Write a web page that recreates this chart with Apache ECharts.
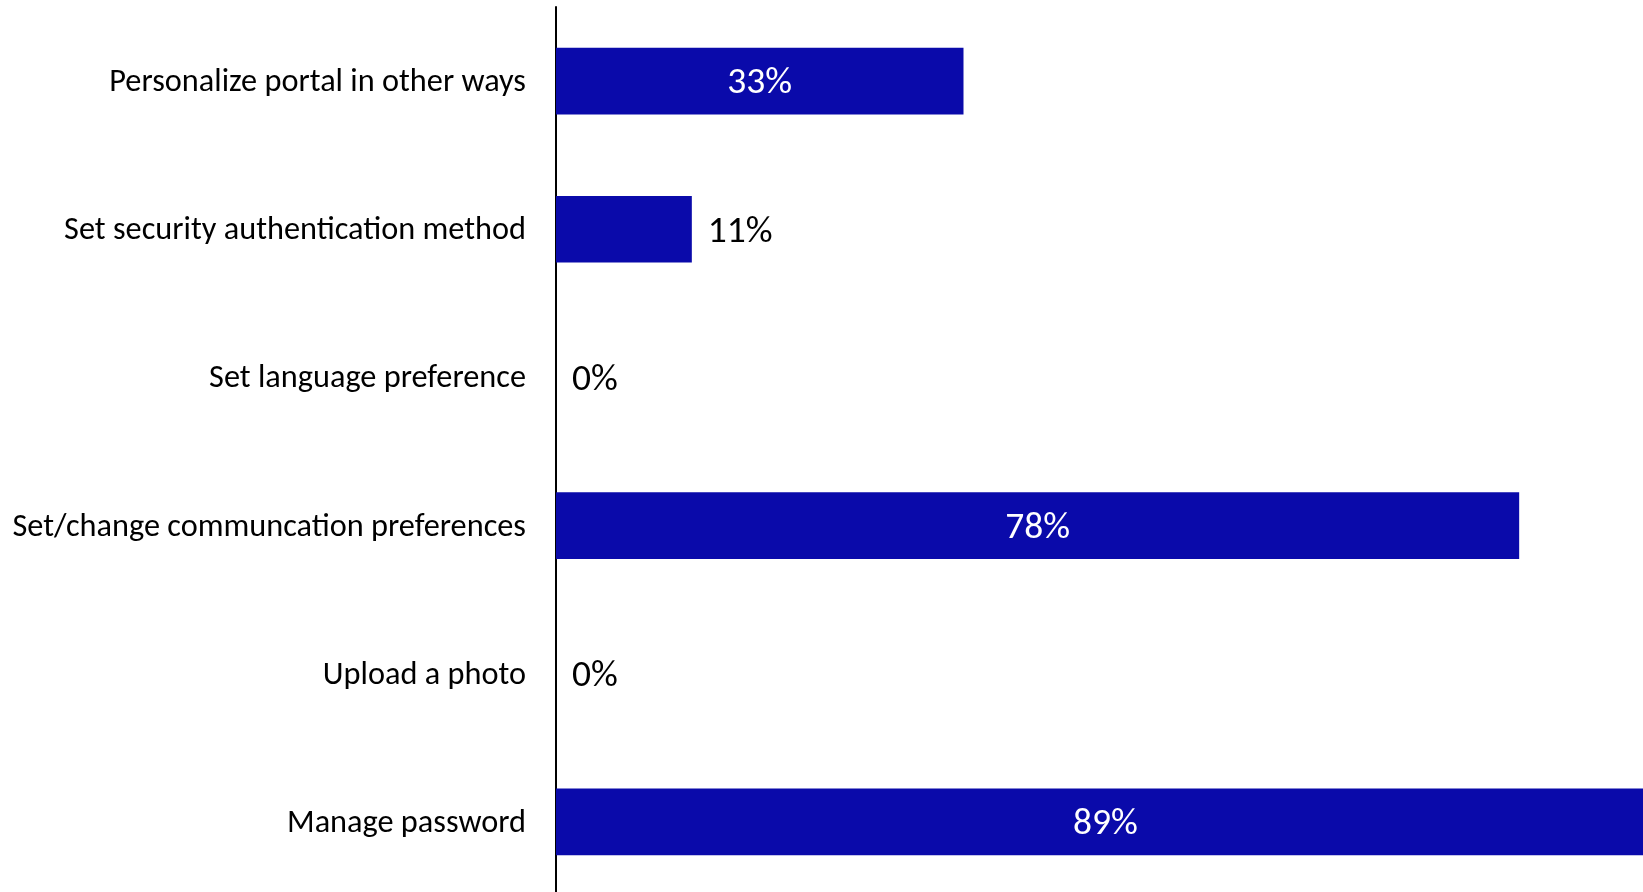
<!DOCTYPE html>
<html>
<head>
<meta charset="utf-8">
<script src="https://cdn.jsdelivr.net/npm/echarts@6/dist/echarts.min.js"></script>
<style>
  html, body { margin: 0; padding: 0; background: #fff; }
  #chart { width: 1643px; height: 892px; }
</style>
</head>
<body>
<div id="chart"></div>
<script>
// Portal self-service features used (share of respondents)
const categories = [
  'Personalize portal in other ways',
  'Set security authentication method',
  'Set language preference',
  'Set/change communcation preferences',
  'Upload a photo',
  'Manage password'
];
const shares = [33, 11, 0, 78, 0, 89];

const BAR_COLOR = '#0A0AAA';
const FONT = 'Carlito, Lato, sans-serif';

// Short bars cannot hold their label, so it sits just past the bar end
const barData = shares.map(v => {
  const outside = v < 20;
  return {
    value: v,
    label: outside
      ? { position: 'right', color: '#000', distance: 16 }
      : { position: 'inside', color: '#fff' }
  };
});

const chart = echarts.init(document.getElementById('chart'), null, { renderer: 'canvas' });
chart.setOption({
  animation: false,
  backgroundColor: '#fff',
  // the plot runs slightly past the right edge of the page
  grid: {
    left: 556, width: 1099, top: 7, height: 889,
    containLabel: false,
    outerBoundsMode: 'none'
  },
  xAxis: {
    type: 'value',
    min: 0,
    max: 89,
    show: false
  },
  yAxis: {
    type: 'category',
    data: categories,
    inverse: true,
    axisLine: { show: true, lineStyle: { color: '#000', width: 2 } },
    axisTick: { show: false },
    axisLabel: {
      margin: 30,
      color: '#000',
      fontFamily: FONT,
      fontSize: 32.3,
      formatter: v => '{c|' + v + '}',
      rich: {
        c: { fontFamily: FONT, fontSize: 32.3, color: '#000', padding: [4, 0, 0, 0] }
      }
    },
    splitLine: { show: false }
  },
  series: [{
    type: 'bar',
    data: barData,
    barCategoryGap: '55%',
    clip: false,
    itemStyle: { color: BAR_COLOR },
    label: {
      show: true,
      fontFamily: FONT,
      fontSize: 37.5,
      offset: [0, 3],
      formatter: p => p.value + '%'
    }
  }]
});
</script>
</body>
</html>
